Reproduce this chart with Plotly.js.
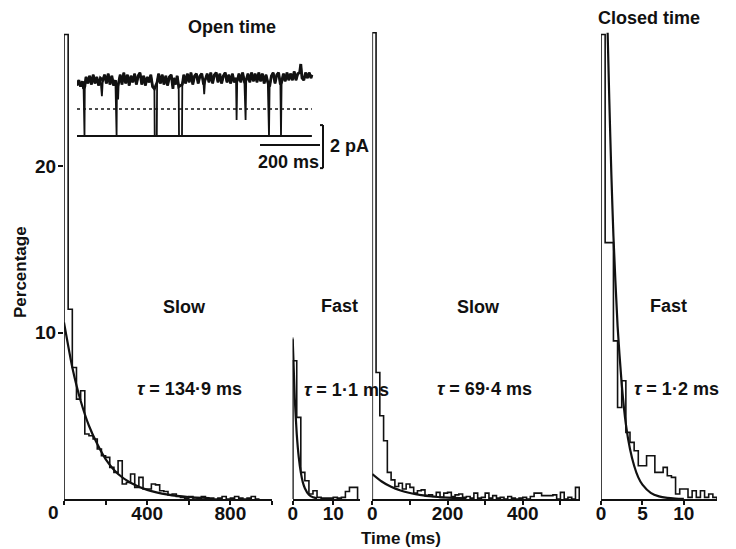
<!DOCTYPE html>
<html><head><meta charset="utf-8">
<script src="https://cdn.plot.ly/plotly-3.0.1.min.js"></script>
<style>html,body{margin:0;padding:0;background:#fff}#chart{width:736px;height:549px}</style>
</head><body><div id="chart"></div>
<script>
// ---------- DATA ----------
// Open time, slow component (bin 20 ms), percentage per bin
const openSlowBinMs = 20;
const openSlowPct = [27.9, 11.4, 7.9, 6.0, 6.5, 3.9, 3.8, 3.6, 3.0, 2.6, 2.5, 1.9, 1.6, 2.3, 0.9, 1.0, 1.5, 0.7, 1.3, 0.6, 0.6, 0.9, 0.85, 0.5, 0.45, 0.25, 0.3, 0.15, 0.1, 0.05, 0.15, 0.0, 0.05, 0.15, 0.05, 0.05, 0.0, 0.05, 0.15, 0.0, 0.05, 0.15, 0.05, 0.0, 0.05, 0.15, 0.0];
const openSlowFitT = [0, 40, 80, 120, 160, 200, 260, 320, 400, 500, 600, 700];
const openSlowFitPct = [10.6, 7.9, 5.9, 4.4, 3.3, 2.4, 1.5, 0.98, 0.55, 0.26, 0.12, 0.06];

// Open time, fast component (bin 1 ms)
const openFastBinMs = 1;
const openFastPct = [8.3, 4.9, 1.6, 1.1, 0.3, 0.5, 0.1, 0.05, 0.05, 0.05, 0.1, 0.05, 0.1, 0.45, 0.7, 0.7];
const openFastFitT = [0, 0.5, 1, 1.5, 2, 2.5, 3, 4, 5, 6];
const openFastFitPct = [9.6, 6.1, 3.9, 2.5, 1.6, 1.0, 0.65, 0.25, 0.1, 0.04];

// Closed time, slow component (bin 10 ms)
const closedSlowBinMs = 10;
const closedSlowPct = [28.0, 7.6, 5.0, 3.5, 1.6, 1.15, 0.75, 0.95, 0.6, 0.9, 0.7, 0.35, 0.5, 0.55, 0.2, 0.25, 0.15, 0.4, 0.1, 0.35, 0.4, 0.15, 0.25, 0.3, 0.1, 0.15, 0.05, 0.35, 0.05, 0.1, 0.35, 0.05, 0.2, 0.05, 0.1, 0.0, 0.15, 0.05, 0.0, 0.05, 0.1, 0.0, 0.15, 0.35, 0.35, 0.2, 0.2, 0.2, 0.25, 0.0, 0.4, 0.0, 0.1, 0.0, 0.7];
const closedSlowFitT = [0, 25, 50, 75, 100, 130, 160, 200, 250];
const closedSlowFitPct = [1.5, 1.05, 0.73, 0.51, 0.36, 0.23, 0.15, 0.08, 0.04];

// Closed time, fast component (bin 0.5 ms)
const closedFastBinMs = 0.5;
const closedFastPct = [27.9, 15.4, 15.4, 9.5, 5.5, 7.1, 4.0, 3.4, 2.9, 2.0, 2.0, 2.6, 2.6, 1.6, 1.6, 1.9, 1.4, 1.3, 0.3, 0.6, 0.6, 0.1, 0.5, 0.1, 0.5, 0.1, 0.3, 0.1];
const closedFastFitT = [0.8, 1.0, 1.25, 1.5, 2, 2.5, 3, 3.5, 4, 4.5, 5, 6, 7, 8, 9, 10];
const closedFastFitPct = [28.0, 24.0, 19.5, 15.8, 10.4, 6.9, 4.5, 3.0, 2.0, 1.3, 0.86, 0.37, 0.16, 0.07, 0.03, 0.01];

// Inset: single-channel current record (time ms, current pA)
const insetT = [
  0,6,12,18,22,23,25,26,30,36,
  42,48,54,60,66,72,78,83,86,92,
  98,104,110,116,122,128,130,132,133,137,
  139,144,150,156,162,168,174,180,186,192,
  198,204,210,216,222,228,234,240,246,252,
  258,259,266,267,272,278,284,290,296,302,
  308,314,320,322,328,334,339,340,350,351,
  356,362,368,374,380,386,392,398,404,410,
  416,422,424,427,434,440,446,452,458,464,
  470,476,482,488,494,500,506,512,518,524,
  530,532,534,540,546,552,558,562,564,570,
  576,582,588,594,600,606,612,618,624,630,
  636,640,642,648,654,660,666,672,678,680,
  682,688,694,700,706,712,718,724,730,736,
  742,746,750,756,762,768,774,780,783];
const insetI = [
  2.35,2.6,2.3,2.55,2.2,0,0,2.3,2.75,2.45,
  2.8,2.4,2.85,2.45,2.75,2.35,2.7,1.85,2.6,2.85,
  2.45,2.9,2.4,2.8,2.35,2.6,0,0,2.2,1.7,
  2.5,2.85,2.4,2.95,2.45,2.85,2.35,2.8,2.5,2.9,
  2.4,2.8,2.95,2.4,2.8,2.35,2.75,2.5,2.85,2.3,
  2.2,0,0,2.5,2.9,2.45,2.85,2.4,2.8,2.35,
  2.75,2.85,2.2,2.7,2.4,2.8,2.3,0,0,2.4,
  2.85,2.45,2.9,2.5,2.95,2.4,2.8,2.9,2.45,2.8,
  2.9,2.4,1.95,2.6,2.9,2.5,2.95,2.45,2.85,2.95,
  2.5,2.9,2.45,2.8,2.95,2.5,2.85,2.45,2.9,2.5,
  2.7,0.75,2.55,2.9,2.5,2.95,2.55,0.75,2.6,2.9,
  2.5,2.95,2.55,2.9,2.5,2.95,2.55,2.9,2.45,2.85,
  2.5,0,2.3,2.8,2.95,2.45,2.85,2.95,2.4,0,
  2.5,2.9,2.55,2.95,2.6,2.9,2.6,3.0,2.6,2.9,
  2.95,3.35,2.7,2.6,2.95,2.7,2.95,2.7,2.85];
const insetSpanMs = [0, 783];
const closedLevelPA = 0;
const halfLevelPA = 1.26;

// Tick labels
const openSlowTicks = [0, 200, 400, 600, 800, 1000];
const openSlowTickText = ['', '', '400', '', '800', ''];
const openFastTicks = [0, 10];
const openFastTickText = ['0', '10'];
const closedSlowTicks = [0, 100, 200, 300, 400, 500];
const closedSlowTickText = ['0', '', '200', '', '400', ''];
const closedFastTicks = [0, 5, 10];
const closedFastTickText = ['0', '5', '10'];
const yTicks = [10, 20];
const yTickText = ['10', '20'];

// ---------- BUILD ----------
const W = 736, H = 549;
const fx = p => p / W;
const fy = p => 1 - p / H;
const FONT = 'Liberation Sans, Arial, Helvetica, sans-serif';

function steps(binW, vals) {
  const x = [0], y = [0];
  vals.forEach((v, i) => { x.push(i * binW); y.push(v); });
  x.push(vals.length * binW); y.push(0);
  return {x, y};
}
function histTrace(binW, vals, xa) {
  const s = steps(binW, vals);
  return {x: s.x, y: s.y, xaxis: xa, yaxis: 'y', type: 'scatter', mode: 'lines',
    line: {shape: 'hv', color: '#111', width: 1.6}, hoverinfo: 'skip', showlegend: false};
}
function fitTrace(t, v, xa) {
  return {x: t, y: v, xaxis: xa, yaxis: 'y', type: 'scatter', mode: 'lines',
    line: {shape: 'spline', smoothing: 0.6, color: '#111', width: 2.2}, hoverinfo: 'skip', showlegend: false};
}
// open-level band of the record (closings removed), drawn thicker
const insetBand = insetI.map(v => (v < 2.0 ? null : v));

const traces = [
  histTrace(openSlowBinMs, openSlowPct, 'x'),
  fitTrace(openSlowFitT, openSlowFitPct, 'x'),
  histTrace(openFastBinMs, openFastPct, 'x2'),
  fitTrace(openFastFitT, openFastFitPct, 'x2'),
  histTrace(closedSlowBinMs, closedSlowPct, 'x3'),
  fitTrace(closedSlowFitT, closedSlowFitPct, 'x3'),
  histTrace(closedFastBinMs, closedFastPct, 'x4'),
  fitTrace(closedFastFitT, closedFastFitPct, 'x4'),
  {x: insetSpanMs, y: [closedLevelPA, closedLevelPA], xaxis: 'x5', yaxis: 'y5', type: 'scatter', mode: 'lines',
   line: {color: '#111', width: 2}, hoverinfo: 'skip', showlegend: false},
  {x: insetSpanMs, y: [halfLevelPA, halfLevelPA], xaxis: 'x5', yaxis: 'y5', type: 'scatter', mode: 'lines',
   line: {color: '#111', width: 1.5, dash: 'dot'}, hoverinfo: 'skip', showlegend: false},
  {x: insetT, y: insetI, xaxis: 'x5', yaxis: 'y5', type: 'scatter', mode: 'lines',
   line: {color: '#111', width: 1.8}, hoverinfo: 'skip', showlegend: false},
  {x: insetT, y: insetBand, xaxis: 'x5', yaxis: 'y5', type: 'scatter', mode: 'lines', connectgaps: true,
   line: {color: '#111', width: 2.8}, hoverinfo: 'skip', showlegend: false}
];

const tickFont = {family: FONT, size: 19, color: '#111', weight: 'bold'};
function xax(domainPx, range, tv, tt) {
  return {domain: [fx(domainPx[0]), fx(domainPx[1])], range: range, anchor: 'y',
    showline: true, linecolor: '#111', linewidth: 2, showgrid: false, zeroline: false,
    ticks: 'outside', ticklen: 4, tickwidth: 2, tickcolor: '#111', ticklabelstandoff: -8,
    tickvals: tv, ticktext: tt, tickfont: tickFont, fixedrange: true};
}

const layout = {
  width: W, height: H, margin: {l: 0, r: 0, t: 0, b: 0},
  paper_bgcolor: '#fff', plot_bgcolor: 'rgba(0,0,0,0)',
  font: {family: FONT, color: '#111'},
  showlegend: false,
  xaxis: xax([64, 272], [0, 1000], openSlowTicks, openSlowTickText),
  xaxis2: xax([292.7, 360], [0, 16.6], openFastTicks, openFastTickText),
  xaxis3: xax([372.3, 580], [0, 552], closedSlowTicks, closedSlowTickText),
  xaxis4: xax([601, 717], [0, 14], closedFastTicks, closedFastTickText),
  yaxis: {domain: [fy(499), fy(24.5)], range: [0, 28.5], anchor: 'x', showline: false,
    showgrid: false, zeroline: false, ticks: 'outside', ticklen: 5, tickwidth: 2, tickcolor: '#111',
    ticklabelstandoff: -2,
    tickvals: yTicks, ticktext: yTickText, tickfont: tickFont, fixedrange: true},
  xaxis5: {domain: [fx(77), fx(326)], range: [0, 830], anchor: 'y5', visible: false, fixedrange: true},
  yaxis5: {domain: [fy(172), fy(58)], range: [-1.67, 3.63], anchor: 'x5', visible: false, fixedrange: true},
  shapes: [
    // short axis of open-fast panel
    {type: 'line', xref: 'x2', yref: 'y', x0: 0, x1: 0, y0: 0, y1: 9.7, line: {color: '#111', width: 1.6}},
    // inset scale bars
    {type: 'line', xref: 'x5', yref: 'y5', x0: 610, x1: 810, y0: -0.42, y1: -0.42, line: {color: '#111', width: 2}},
    {type: 'line', xref: 'x5', yref: 'y5', x0: 820, x1: 820, y0: -1.49, y1: 0.51, line: {color: '#111', width: 2}},
    {type: 'line', xref: 'x5', yref: 'y5', x0: 810, x1: 820, y0: 0.51, y1: 0.51, line: {color: '#111', width: 2}},
    {type: 'line', xref: 'x5', yref: 'y5', x0: 810, x1: 820, y0: -1.49, y1: -1.49, line: {color: '#111', width: 2}}
  ],
  annotations: []
};

function ann(text, x, y, size, opts) {
  layout.annotations.push(Object.assign({text: text, xref: 'paper', yref: 'paper', x: fx(x), y: fy(y),
    xanchor: 'center', yanchor: 'middle', showarrow: false,
    font: {family: FONT, size: size, color: '#111', weight: 'bold'}}, opts || {}));
}
ann('Open time', 232, 27, 18);
ann('Closed time', 649, 18, 18);
ann('Percentage', 20, 272, 17, {textangle: -90});
ann('Time (ms)', 401, 538, 17);
ann('0', 53, 512, 19);
ann('Slow', 184, 307, 18);
ann('<i>τ</i> = 134·9 ms', 189.5, 389, 18);
ann('Fast', 339.5, 306, 18);
ann('<i>τ</i> = 1·1 ms', 346, 390, 18);
ann('Slow', 478, 307, 18);
ann('<i>τ</i> = 69·4 ms', 485, 389, 18);
ann('Fast', 668, 306, 18);
ann('<i>τ</i> = 1·2 ms', 676, 389, 18);
ann('200 ms', 288, 162, 18);
ann('2 pA', 349, 146, 18);

Plotly.newPlot('chart', traces, layout, {staticPlot: true, displayModeBar: false});
</script></body></html>
